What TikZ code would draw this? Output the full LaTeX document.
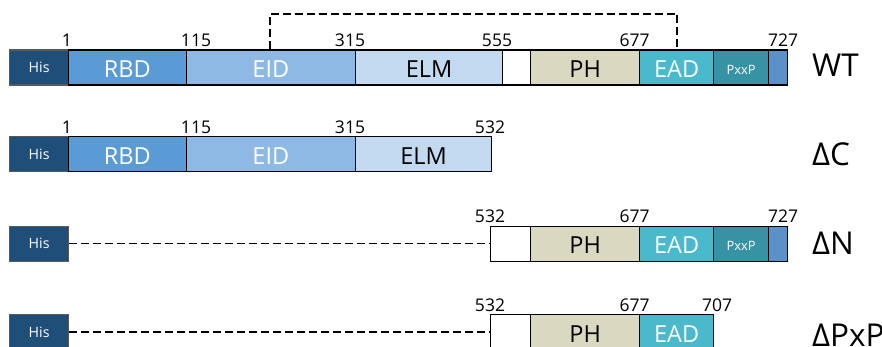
\documentclass[tikz,border=0pt]{standalone}
\usepackage{fontspec}
\setmainfont{Open Sans}
\definecolor{hisc}{HTML}{1F4E79}
\definecolor{rbdc}{HTML}{5B9BD5}
\definecolor{eidc}{HTML}{8EB9E4}
\definecolor{elmc}{HTML}{C3D9F0}
\definecolor{phc}{HTML}{DBD8C2}
\definecolor{eadc}{HTML}{4BB9CC}
\definecolor{pxxpc}{HTML}{3792A3}
\definecolor{tailc}{HTML}{5A91C8}
\tikzset{
  seg/.style={draw=black, line width=1.2pt, minimum height=35pt, inner sep=0pt, anchor=north west,
    font=\fontsize{23.5}{26}\selectfont, text height=20.6pt, text depth=0pt},
  hisbox/.style={seg, draw=black!65, fill=hisc, text=white, minimum width=59pt,
    font=\fontsize{14.2}{16}\selectfont, text height=10pt},
  pxxpbox/.style={seg, fill=pxxpc, text=white, minimum width=55pt,
    font=\fontsize{12.9}{15}\selectfont, text height=14pt},
  num/.style={anchor=base, inner sep=0pt, font=\fontsize{17.5}{20}\selectfont},
  rowlab/.style={anchor=base west, inner sep=0pt, font=\fontsize{31.5}{34}\selectfont},
  dline/.style={line width=1.3pt, dash pattern=on 8pt off 4pt},
}
\begin{document}
\begin{tikzpicture}[x=1pt,y=-1pt]
\clip (0,0) rectangle (882,347);
\fill[white] (0,0) rectangle (882,347);
% ---------- WT ----------
\node[hisbox] (h1) at (9,49.5) {His};
\node[seg, fill=rbdc, text=white, minimum width=117.5pt] (r1) at (68,49.5) {RBD};
\node[seg, fill=eidc, text=white, minimum width=169.5pt] (e1) at (185.5,49.5) {EID};
\node[seg, fill=elmc, minimum width=147pt] (m1) at (355,49.5) {ELM};
\node[seg, fill=white, minimum width=28pt] (w1) at (502,49.5) {};
\node[seg, fill=phc, minimum width=109pt] (p1) at (530,49.5) {PH};
\node[seg, fill=eadc, text=white, minimum width=74pt] (a1) at (639,49.5) {EAD};
\node[pxxpbox] (x1) at (713,49.5) {PxxP};
\node[seg, fill=tailc, minimum width=19pt] (t1) at (768,49.5) {};
\node[num] (n11) at (67,46.7) {1};
\node[num] (n12) at (196,46.7) {115};
\node[num] (n13) at (350,46.7) {315};
\node[num] (n14) at (497,46.7) {555};
\node[num] (n15) at (634.5,46.7) {677};
\node[num] (n16) at (783,46.7) {727};
\node[rowlab] (l1) at (812,77) {WT};
\coordinate (d1) at (270,49.5);
\coordinate (d2) at (677,49.5);
\draw[dline] (d1) -- ++(0,-35.5) -| (d2);
% ---------- dC ----------
\node[hisbox] (h2) at (9,136) {His};
\node[seg, fill=rbdc, text=white, minimum width=117.5pt] (r2) at (68,136) {RBD};
\node[seg, fill=eidc, text=white, minimum width=169.5pt] (e2) at (185.5,136) {EID};
\node[seg, fill=elmc, minimum width=136pt] (m2) at (355,136) {ELM};
\node[num] (n21) at (67,133.2) {1};
\node[num] (n22) at (196,133.2) {115};
\node[num] (n23) at (350,133.2) {315};
\node[num] (n24) at (490,133.2) {532};
\node[rowlab] (l2) at (812,166) {ΔC};
% ---------- dN ----------
\node[hisbox] (h3) at (9,225.5) {His};
\node[seg, fill=white, minimum width=40pt] (w3) at (490,225.5) {};
\node[seg, fill=phc, minimum width=109pt] (p3) at (530,225.5) {PH};
\node[seg, fill=eadc, text=white, minimum width=74pt] (a3) at (639,225.5) {EAD};
\node[pxxpbox] (x3) at (713,225.5) {PxxP};
\node[seg, fill=tailc, minimum width=19pt] (t3) at (768,225.5) {};
\node[num] (n31) at (490,222.5) {532};
\node[num] (n32) at (634.5,222.5) {677};
\node[num] (n33) at (783,222.5) {727};
\node[rowlab] (l3) at (812,254) {ΔN};
\draw[dline] (h3.east) -- (w3.west);
% ---------- dPxP ----------
\node[hisbox] (h4) at (9,314) {His};
\node[seg, fill=white, minimum width=40pt] (w4) at (490,314) {};
\node[seg, fill=phc, minimum width=109pt] (p4) at (530,314) {PH};
\node[seg, fill=eadc, text=white, minimum width=74pt] (a4) at (639,314) {EAD};
\node[num] (n41) at (490,311) {532};
\node[num] (n42) at (634.5,311) {677};
\node[num] (n43) at (717,311) {707};
\node[rowlab] (l4) at (812,346.5) {ΔPxP};
\draw[dline] (h4.east) -- (w4.west);
\end{tikzpicture}
\end{document}
